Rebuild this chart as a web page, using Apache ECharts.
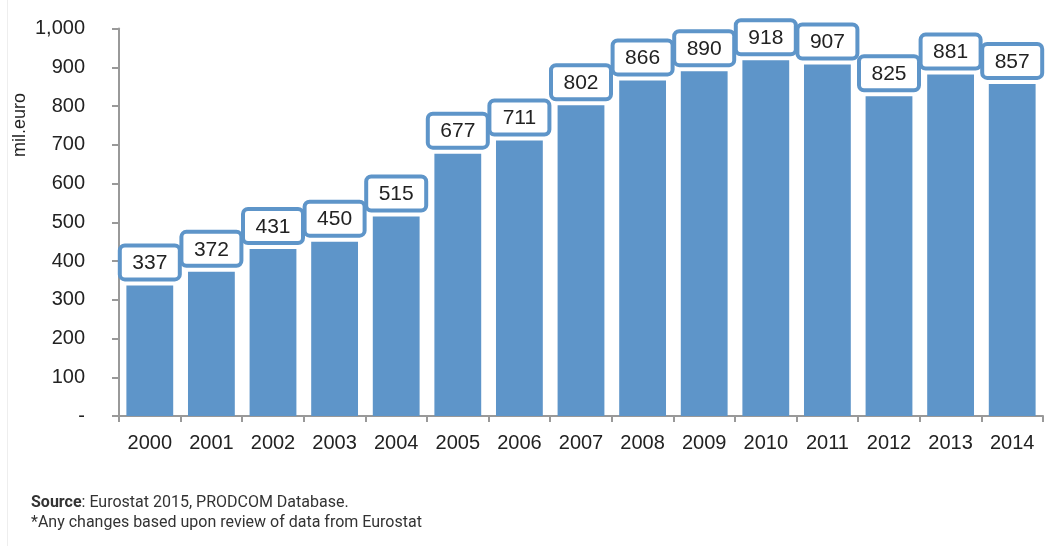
<!DOCTYPE html>
<html>
<head>
<meta charset="utf-8">
<script src="https://cdn.jsdelivr.net/npm/echarts@6/dist/echarts.min.js"></script>
<style>
html,body{margin:0;padding:0;background:#fff;}
#chart{width:1056px;height:546px;}
</style>
</head>
<body>
<div id="chart"></div>
<script>
var categories = ['2000','2001','2002','2003','2004','2005','2006','2007','2008','2009','2010','2011','2012','2013','2014'];
var values = [337,372,431,450,515,677,711,802,866,890,918,907,825,881,857];
var yTicks = {min:0, max:1000, interval:100};
var barColor = '#5e95c9';

var chart = echarts.init(document.getElementById('chart'));
chart.setOption({
  animation:false,
  backgroundColor:'#fff',
  grid:{left:119, right:13, top:28.5, bottom:130, containLabel:false},
  xAxis:{
    type:'category', data:categories,
    axisLine:{lineStyle:{color:'#999', width:2}},
    axisTick:{show:true, length:6, lineStyle:{color:'#999', width:2}},
    axisLabel:{color:'#222', fontSize:20, fontFamily:'Liberation Sans', margin:17}
  },
  yAxis:{
    type:'value', min:yTicks.min, max:yTicks.max, interval:yTicks.interval,
    axisLine:{show:true, lineStyle:{color:'#999', width:2}},
    axisTick:{show:true, length:7, lineStyle:{color:'#999', width:2}},
    splitLine:{show:false},
    axisLabel:{color:'#222', fontSize:20, fontFamily:'Liberation Sans', margin:34,
      formatter:function(v){ return v===0 ? '-' : v.toLocaleString('en-US'); }}
  },
  series:[{
    type:'bar', data:values, barCategoryGap:'24%',
    itemStyle:{color:barColor},
    label:{
      show:true, position:'top', distance:8,
      color:'#222', fontSize:21, fontFamily:'Liberation Sans',
      backgroundColor:'#fff', borderColor:barColor, borderWidth:4, borderRadius:3,
      width:56, align:'center', lineHeight:24, padding:[4,0,2,0]
    }
  }],
  graphic:[
    {type:'rect', shape:{x:7,y:0,width:1,height:546}, style:{fill:'#eeeeee'}, silent:true},
    {type:'text', x:20, y:125, rotation:Math.PI/2, style:{text:'mil.euro', fill:'#222', fontSize:18, fontFamily:'Liberation Sans', textAlign:'center', textVerticalAlign:'middle'}},
    {type:'text', x:31, y:503, style:{rich:{b:{fontWeight:'bold', fontSize:16, fontFamily:'Roboto', fill:'#333'}, n:{fontSize:16, fontFamily:'Roboto', fill:'#333'}}, text:'{b|Source}{n|: Eurostat 2015, PRODCOM Database.}', textVerticalAlign:'middle'}},
    {type:'text', x:31, y:523, style:{text:'*Any changes based upon review of data from Eurostat', fontSize:16, fontFamily:'Roboto', fill:'#333', textVerticalAlign:'middle'}}
  ]
});
</script>
</body>
</html>
